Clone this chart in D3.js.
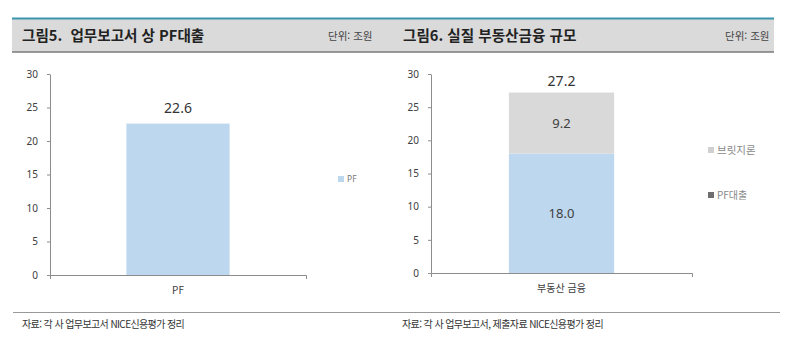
<!DOCTYPE html>
<html lang="ko">
<head>
<meta charset="utf-8">
<script src="https://cdnjs.cloudflare.com/ajax/libs/d3/7.8.5/d3.min.js"></script>
<style>
  body { margin: 0; background: #fff; }
  svg { display: block; font-family: "Noto Sans CJK KR", "Noto Sans", sans-serif; }
  .title { white-space: pre; }
</style>
</head>
<body>
<script>
// ---- data ----
var yTicks = [0, 5, 10, 15, 20, 25, 30]

var leftTitle = "그림5.  업무보고서 상 PF대출"
var leftCats = ["PF"]
var leftValues = [22.6]
var leftLegend = ["PF"]

var rightTitle = "그림6. 실질 부동산금융 규모"
var rightCats = ["부동산 금융"]
var rightPF = [18.0]
var rightBridge = [9.2]
var rightLegend = ["브릿지론", "PF대출"]

var unitLabel = "단위: 조원"
var leftSource = "자료: 각 사 업무보고서 NICE신용평가 정리"
var rightSource = "자료: 각 사 업무보고서, 제출자료 NICE신용평가 정리"

// ---- style ----
var width = 800, height = 354
var blue = "#bdd7ee"
var grey = "#d9d9d9"
var axisColor = "#8c8c8c"
var textColor = "#404040"

var svg = d3.select("body").append("svg")
    .attr("width", width)
    .attr("height", height)

// header band
svg.append("rect").attr("x", 12).attr("y", 18).attr("width", 762).attr("height", 34).attr("fill", "#dadada")
svg.append("line").attr("x1", 12).attr("x2", 774).attr("y1", 18.5).attr("y2", 18.5).attr("stroke", "#3b95ad").attr("stroke-width", 2)
svg.append("line").attr("x1", 12).attr("x2", 774).attr("y1", 52).attr("y2", 52).attr("stroke", "#7a7a7a").attr("stroke-width", 1.5)

svg.append("text").attr("class", "title").attr("x", 22).attr("y", 41).attr("font-size", 14.6).attr("font-weight", "bold").attr("fill", "#222").text(leftTitle)
svg.append("text").attr("x", 328).attr("y", 40).attr("font-size", 10.5).attr("fill", "#444").text(unitLabel)
svg.append("text").attr("class", "title").attr("x", 403).attr("y", 41).attr("font-size", 14.6).attr("font-weight", "bold").attr("fill", "#222").text(rightTitle)
svg.append("text").attr("x", 725).attr("y", 40).attr("font-size", 10.5).attr("fill", "#444").text(unitLabel)

// footer
svg.append("line").attr("x1", 13).attr("x2", 780).attr("y1", 312.5).attr("y2", 312.5).attr("stroke", "#999").attr("stroke-width", 1)
svg.append("text").attr("x", 22).attr("y", 328).attr("font-size", 10).attr("fill", "#333").attr("letter-spacing", "-0.6").text(leftSource)
svg.append("text").attr("x", 402).attr("y", 328).attr("font-size", 10).attr("fill", "#333").attr("letter-spacing", "-0.6").text(rightSource)

function drawAxes(g, x, y) {
    var ya = g.append("g").attr("transform", `translate(${x.range()[0]},0)`)
        .call(d3.axisLeft(y).tickValues(yTicks).tickSize(3).tickSizeOuter(0).tickPadding(9))
    var xa = g.append("g").attr("transform", `translate(0,${y(0)})`)
        .call(d3.axisBottom(x).tickSizeInner(0).tickSizeOuter(4).tickPadding(12))
    ;[ya, xa].forEach(a => {
        a.selectAll("path, line").attr("stroke", axisColor)
        a.selectAll("text").attr("fill", textColor).attr("font-size", 10)
            .attr("font-family", "Noto Sans, sans-serif")
    })
    xa.selectAll("text").attr("font-family", "Noto Sans CJK KR, sans-serif")
}

// ---- left chart ----
var gl = svg.append("g")
var xl = d3.scaleBand().domain(leftCats).range([50, 306]).paddingInner(0).paddingOuter(0.74)
var yl = d3.scaleLinear().domain([0, 30]).range([275, 74])

gl.selectAll(".bar").data(leftCats).join("rect")
    .attr("x", d => xl(d)).attr("width", xl.bandwidth())
    .attr("y", (d, i) => yl(leftValues[i])).attr("height", (d, i) => yl(0) - yl(leftValues[i]))
    .attr("fill", blue)
drawAxes(gl, xl, yl)
gl.selectAll(".lbl").data(leftCats).join("text")
    .attr("x", d => xl(d) + xl.bandwidth() / 2).attr("y", (d, i) => yl(leftValues[i]) - 11)
    .attr("text-anchor", "middle").attr("font-size", 14).attr("fill", "#333")
    .attr("font-family", "Noto Sans, sans-serif")
    .text((d, i) => leftValues[i].toFixed(1))

gl.append("rect").attr("x", 338).attr("y", 176).attr("width", 6).attr("height", 6).attr("fill", blue)
gl.append("text").attr("x", 347).attr("y", 182).attr("font-size", 8.5).attr("fill", "#777")
    .attr("font-family", "Noto Sans, sans-serif").text(leftLegend[0])

// ---- right chart ----
var gr = svg.append("g")
var xr = d3.scaleBand().domain(rightCats).range([431, 692]).paddingInner(0).paddingOuter(0.74)
var yr = d3.scaleLinear().domain([0, 30]).range([273, 74])

var stackData = rightCats.map((c, i) => ({cat: c, pf: rightPF[i], bridge: rightBridge[i]}))
var series = d3.stack().keys(["pf", "bridge"])(stackData)
var colors = {pf: blue, bridge: grey}

gr.selectAll(".layer").data(series).join("g")
    .attr("fill", s => colors[s.key])
    .selectAll("rect").data(s => s).join("rect")
    .attr("x", d => xr(d.data.cat)).attr("width", xr.bandwidth())
    .attr("y", d => yr(d[1])).attr("height", d => yr(d[0]) - yr(d[1]))
drawAxes(gr, xr, yr)

// segment labels
series.forEach(s => {
    gr.selectAll(".seg-" + s.key).data(s).join("text")
        .attr("x", d => xr(d.data.cat) + xr.bandwidth() / 2)
        .attr("y", d => (yr(d[0]) + yr(d[1])) / 2 + 5)
        .attr("text-anchor", "middle").attr("font-size", 13).attr("fill", "#404040")
        .attr("font-family", "Noto Sans, sans-serif")
        .text(d => (d[1] - d[0]).toFixed(1))
})
// total label
gr.selectAll(".tot").data(stackData).join("text")
    .attr("x", d => xr(d.cat) + xr.bandwidth() / 2)
    .attr("y", d => yr(d.pf + d.bridge) - 7)
    .attr("text-anchor", "middle").attr("font-size", 14).attr("fill", "#333")
    .attr("font-family", "Noto Sans, sans-serif")
    .text(d => (d.pf + d.bridge).toFixed(1))

// legend (as in source: bridge light grey, PF dark grey)
var legColors = ["#d0d0d0", "#6e6e6e"]
var legY = [150, 195]
rightLegend.forEach((t, i) => {
    gr.append("rect").attr("x", 708).attr("y", legY[i] - 3).attr("width", 6).attr("height", 6).attr("fill", legColors[i])
    gr.append("text").attr("x", 717).attr("y", legY[i] + 4).attr("font-size", i ? 10 : 10.5)
        .attr("fill", "#888").text(t)
})
</script>
</body>
</html>
